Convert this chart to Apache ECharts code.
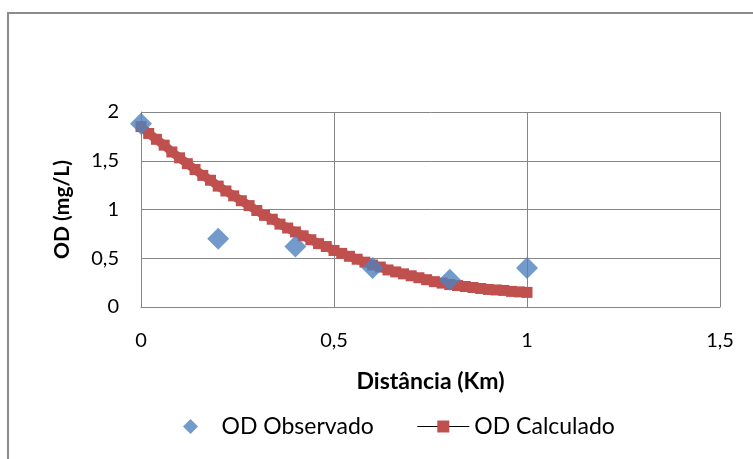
<!DOCTYPE html>
<html>
<head>
<meta charset="utf-8">
<script src="https://cdn.jsdelivr.net/npm/echarts@6/dist/echarts.min.js"></script>
<style>
html,body{margin:0;padding:0;background:#fff;}
#main{width:753px;height:459px;}
</style>
</head>
<body>
<div id="main"></div>
<script>
// pontos observados
var obsX = [0, 0.2, 0.4, 0.6, 0.8, 1.0];
var obsY = [1.88, 0.70, 0.62, 0.40, 0.28, 0.40];
// curva calculada
var calcX = [0, 0.02, 0.04, 0.06, 0.08, 0.10, 0.12, 0.14, 0.16, 0.18, 0.20, 0.22, 0.24, 0.26, 0.28, 0.30,
    0.32, 0.34, 0.36, 0.38, 0.40, 0.42, 0.44, 0.46, 0.48, 0.50, 0.52, 0.54, 0.56, 0.58, 0.60,
    0.62, 0.64, 0.66, 0.68, 0.70, 0.72, 0.74, 0.76, 0.78, 0.80, 0.82, 0.84, 0.86, 0.88, 0.90,
    0.92, 0.94, 0.96, 0.98, 1.00];
var calcY = [1.85, 1.78, 1.72, 1.66, 1.59, 1.53, 1.47, 1.41, 1.35, 1.30, 1.24, 1.19, 1.14, 1.09, 1.04, 0.99,
    0.94, 0.90, 0.85, 0.81, 0.77, 0.73, 0.69, 0.65, 0.62, 0.58, 0.55, 0.52, 0.49, 0.46, 0.43,
    0.41, 0.38, 0.36, 0.34, 0.32, 0.30, 0.28, 0.26, 0.245, 0.23, 0.22, 0.21, 0.20, 0.19, 0.18,
    0.175, 0.17, 0.16, 0.155, 0.15];
var xTicks = [0, 0.5, 1, 1.5];
var yTicks = [0, 0.5, 1, 1.5, 2];

var font = 'Lato, "Open Sans", sans-serif';
function virgula(v) { return String(v).replace('.', ','); }

var obsData = [];
for (var i = 0; i < obsX.length; i++) obsData.push([obsX[i], obsY[i]]);
var calcData = [];
for (var j = 0; j < calcX.length; j++) calcData.push([calcX[j], calcY[j]]);

var myChart = echarts.init(document.getElementById('main'));
var option = {
    backgroundColor: '#fff',
    animation: false,
    graphic: [{
        type: 'rect',
        shape: { x: 8, y: 13, width: 800, height: 500 },
        style: { fill: 'none', stroke: '#8c8c8c', lineWidth: 2 },
        z: -1
    }],
    grid: { left: 141, top: 112, right: 33, bottom: 152 },
    xAxis: {
        type: 'value',
        min: 0, max: 1.5, interval: 0.5,
        name: 'Distância (Km)',
        nameLocation: 'middle',
        nameGap: 63,
        nameTextStyle: { fontFamily: font, fontSize: 23, fontWeight: 'bold', color: '#000' },
        axisLine: { lineStyle: { color: '#868686', width: 1 } },
        axisTick: { show: false },
        axisLabel: { margin: 24, fontFamily: font, fontSize: 20, color: '#000', formatter: virgula },
        splitLine: { show: true, lineStyle: { color: '#868686', width: 1 } }
    },
    yAxis: {
        type: 'value',
        min: 0, max: 2, interval: 0.5,
        name: 'OD (mg/L)',
        nameLocation: 'middle',
        nameGap: 68,
        nameTextStyle: { fontFamily: font, fontSize: 21, fontWeight: 'bold', color: '#000' },
        axisLine: { show: true, lineStyle: { color: '#868686', width: 1 } },
        axisTick: { show: false },
        axisLabel: { margin: 22, fontFamily: font, fontSize: 20, color: '#000', formatter: virgula },
        splitLine: { show: true, lineStyle: { color: '#868686', width: 1 } }
    },
    legend: {
        left: 178,
        top: 410,
        itemWidth: 52,
        itemHeight: 15,
        itemGap: 43,
        symbolKeepAspect: true,
        textStyle: { fontFamily: font, fontSize: 23, color: '#000' },
        data: [
            { name: 'OD Observado', icon: 'path://M0,-1L1,0L0,1L-1,0Z' },
            { name: 'OD Calculado', lineStyle: { color: '#000', width: 1 } }
        ]
    },
    series: [{
        name: 'OD Calculado',
        type: 'line',
        data: calcData,
        symbol: 'rect',
        symbolSize: 11,
        showAllSymbol: true,
        itemStyle: { color: '#C0504D' },
        lineStyle: { color: '#C0504D', width: 9 },
        z: 2
    }, {
        name: 'OD Observado',
        type: 'scatter',
        data: obsData,
        symbol: 'diamond',
        symbolSize: 22,
        itemStyle: { color: '#4F81BD' },
        z: 3
    }]
};
myChart.setOption(option);
</script>
</body>
</html>
